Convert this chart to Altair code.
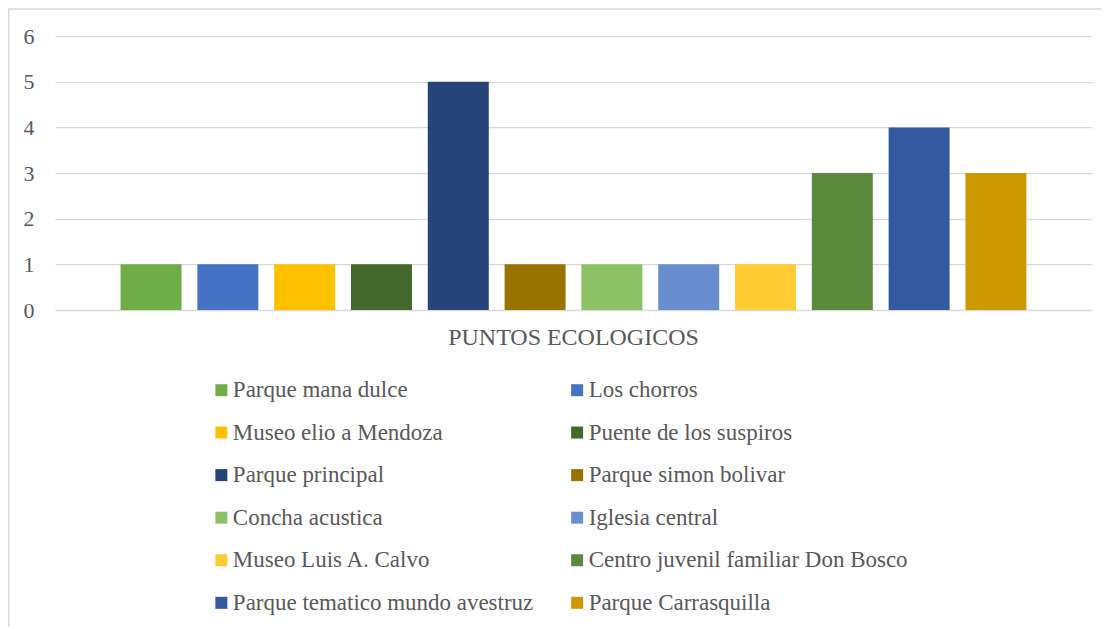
import altair as alt
import pandas as pd

categoria = "PUNTOS ECOLOGICOS"
series = [
    "Parque mana dulce", "Los chorros", "Museo elio a Mendoza",
    "Puente de los suspiros", "Parque principal", "Parque simon bolivar",
    "Concha acustica", "Iglesia central", "Museo Luis A. Calvo",
    "Centro juvenil familiar Don Bosco", "Parque tematico mundo avestruz",
    "Parque Carrasquilla",
]
valores = [1, 1, 1, 1, 5, 1, 1, 1, 1, 3, 4, 3]
colores = [
    "#70AD47", "#4472C4", "#FFC000", "#43682B", "#264478", "#997300",
    "#8CC168", "#698ED0", "#FFCD33", "#5B8A3C", "#335AA1", "#CC9A00",
]
y_ticks = [0, 1, 2, 3, 4, 5, 6]

df = pd.DataFrame({"grupo": [categoria] * len(series), "serie": series, "valor": valores})

FONT = "Liberation Serif"
GREY = "#595959"
GRID = "#D9D9D9"
W = 1037.7
H = 274

bars = alt.Chart(df).mark_bar().encode(
    x=alt.X("grupo:N", title=None,
            scale=alt.Scale(paddingInner=0, paddingOuter=0),
            axis=alt.Axis(labelAngle=0, domain=False, ticks=False, labelPadding=16,
                          labelFontSize=24, labelFont=FONT, labelColor=GREY,
                          labelLimit=600)),
    xOffset=alt.XOffset("serie:N", sort=series,
                        scale=alt.Scale(domain=series, paddingInner=0.206, paddingOuter=0.854)),
    y=alt.Y("valor:Q", title=None,
            scale=alt.Scale(domain=[0, 6], nice=False),
            axis=alt.Axis(values=y_ticks, domain=False, ticks=False, labelPadding=21,
                          labelFontSize=22, labelFont=FONT, labelColor=GREY,
                          gridColor=GRID, gridWidth=1.3)),
    color=alt.Color("serie:N", title=None,
                    scale=alt.Scale(domain=series, range=colores),
                    legend=alt.Legend(orient="none", legendX=155, legendY=342.5,
                                      direction="horizontal",
                                      columns=2, columnPadding=32, rowPadding=18.6,
                                      symbolType="square", symbolSize=144,
                                      symbolStrokeWidth=0, labelOffset=0,
                                      labelFont=FONT, labelFontSize=23,
                                      labelColor=GREY, labelLimit=500, padding=0)),
)

one = alt.Data(values=[{"a": 1}])
top_border = alt.Chart(one).mark_rule(color=GRID, strokeWidth=1.5).encode(
    x=alt.value(-46.5), x2=alt.value(W + 20), y=alt.value(-27.25))
left_border = alt.Chart(one).mark_rule(color=GRID, strokeWidth=1.5).encode(
    x=alt.value(-46.25), y=alt.value(-27.5), y2=alt.value(H + 400))

chart = alt.layer(bars, top_border, left_border).properties(
    width=W, height=H,
    autosize=alt.AutoSizeParams(type="none"),
    padding={"left": 47, "top": 28, "right": 9, "bottom": 317},
    background="white",
).configure_view(stroke=None)

chart.save("out.html", embed_options={"renderer": "svg", "actions": False})
